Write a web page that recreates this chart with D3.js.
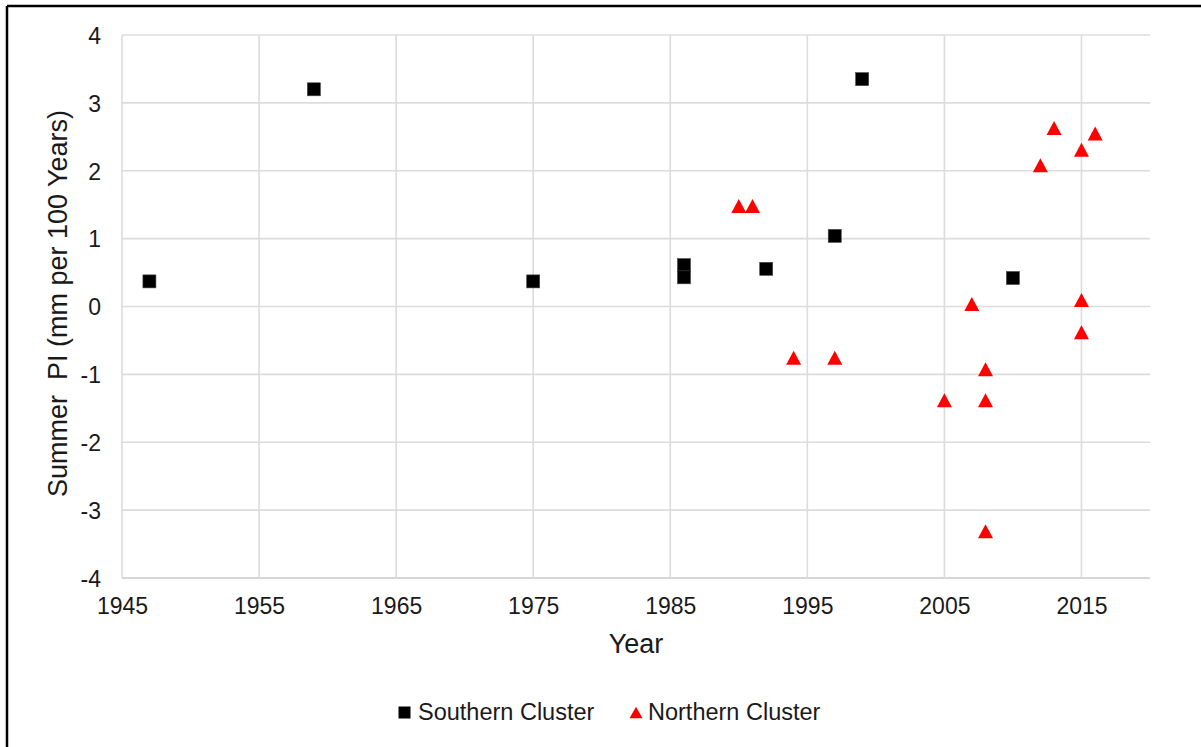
<!DOCTYPE html>
<html>
<head>
<meta charset="utf-8">
<script src="https://cdn.jsdelivr.net/npm/d3@7"></script>
<style>
  html, body { margin: 0; padding: 0; background: #fff; }
  svg { display: block; font-family: "Liberation Sans", Arial, sans-serif; }
</style>
</head>
<body>
<svg id="chart" width="1201" height="747"></svg>
<script>
// Summer PI trend by year for two station clusters
const southernYears  = [1947, 1959, 1975, 1986, 1986, 1992, 1997, 1999, 2010];
const southernValues = [0.37, 3.20, 0.37, 0.61, 0.43, 0.555, 1.04, 3.35, 0.42];

const northernYears  = [1990, 1991, 1994, 1997, 2005, 2007, 2008, 2008, 2008, 2012, 2013, 2015, 2016, 2015, 2015];
const northernValues = [1.48, 1.48, -0.755, -0.755, -1.38, 0.037, -0.925, -1.38, -3.31, 2.08, 2.63, 2.31, 2.55, 0.096, -0.38];

const xTicks = [1945, 1955, 1965, 1975, 1985, 1995, 2005, 2015];
const yTicks = [-4, -3, -2, -1, 0, 1, 2, 3, 4];

const seriesNames = ["Southern Cluster", "Northern Cluster"];

const svg = d3.select("#chart");
const W = 1201, H = 747;
const plot = { left: 122, right: 1150, top: 35, bottom: 578 };

const x = d3.scaleLinear().domain([1945, 2020]).range([plot.left, plot.right]);
const y = d3.scaleLinear().domain([-4, 4]).range([plot.bottom, plot.top]);

// outer frame (only top and left edges fall inside the canvas)
svg.append("rect").attr("x", 0).attr("y", 0).attr("width", W).attr("height", H).attr("fill", "#fff");
svg.append("line").attr("x1", 7).attr("x2", W).attr("y1", 6).attr("y2", 6)
  .attr("stroke", "#000").attr("stroke-width", 2.5);
svg.append("line").attr("x1", 7).attr("x2", 7).attr("y1", 6).attr("y2", H)
  .attr("stroke", "#000").attr("stroke-width", 2.5);

// gridlines
const grid = svg.append("g");
grid.selectAll("line.h").data(yTicks).join("line")
  .attr("x1", plot.left).attr("x2", plot.right)
  .attr("y1", d => y(d)).attr("y2", d => y(d))
  .attr("stroke", d => d === -4 ? "#c8c8c8" : "#dcdcdc").attr("stroke-width", 1.6);
grid.selectAll("line.v").data(xTicks).join("line")
  .attr("x1", d => x(d)).attr("x2", d => x(d))
  .attr("y1", plot.top).attr("y2", plot.bottom)
  .attr("stroke", "#dcdcdc").attr("stroke-width", 1.6);

// axes (labels only, Excel-style; plain hyphen for negatives)
const fmt = d => String(d);
const xAxis = svg.append("g").attr("transform", `translate(0,${plot.bottom})`)
  .call(d3.axisBottom(x).tickValues(xTicks).tickFormat(fmt).tickSize(0).tickPadding(20));
const yAxis = svg.append("g").attr("transform", `translate(${plot.left},0)`)
  .call(d3.axisLeft(y).tickValues(yTicks).tickFormat(fmt).tickSize(0).tickPadding(21));
[xAxis, yAxis].forEach(a => {
  a.select(".domain").remove();
  a.selectAll("text").attr("font-size", 23).attr("fill", "#1a1a1a")
    .attr("font-family", "'Liberation Sans', Arial, sans-serif");
});
yAxis.selectAll("text").attr("dy", "0.36em");

// axis titles
svg.append("text").attr("x", (plot.left + plot.right) / 2).attr("y", 653)
  .attr("text-anchor", "middle").attr("font-size", 27).attr("fill", "#1a1a1a").text("Year");
svg.append("text").attr("transform", "translate(67,303.5) rotate(-90)")
  .attr("text-anchor", "middle").attr("font-size", 27).attr("fill", "#1a1a1a")
  .attr("xml:space", "preserve")
  .text("Summer  PI (mm per 100 Years)");

// markers
const sq = 13;
const triPath = (cx, cy, w, h) => `M${cx},${cy - h / 2}L${cx + w / 2},${cy + h / 2}L${cx - w / 2},${cy + h / 2}Z`;

const southern = southernYears.map((yr, i) => ({ yr, v: southernValues[i] }));
const northern = northernYears.map((yr, i) => ({ yr, v: northernValues[i] }));

svg.append("g").selectAll("rect").data(southern).join("rect")
  .attr("x", d => x(d.yr) - sq / 2).attr("y", d => y(d.v) - sq / 2)
  .attr("width", sq).attr("height", sq)
  .attr("fill", "#000").attr("stroke", "#444").attr("stroke-width", 0.6);

svg.append("g").selectAll("path").data(northern).join("path")
  .attr("d", d => triPath(x(d.yr), y(d.v), 15, 14))
  .attr("fill", "#ff0000");

// legend
const leg = svg.append("g");
leg.append("rect").attr("x", 398.5).attr("y", 706.5).attr("width", 12).attr("height", 12).attr("fill", "#000");
leg.append("text").attr("x", 418).attr("y", 720).attr("font-size", 23.5).attr("fill", "#1a1a1a").text(seriesNames[0]);
leg.append("path").attr("d", triPath(636, 712.5, 13, 11.5)).attr("fill", "#ff0000");
leg.append("text").attr("x", 648).attr("y", 720).attr("font-size", 23.5).attr("fill", "#1a1a1a").text(seriesNames[1]);
</script>
</body>
</html>
